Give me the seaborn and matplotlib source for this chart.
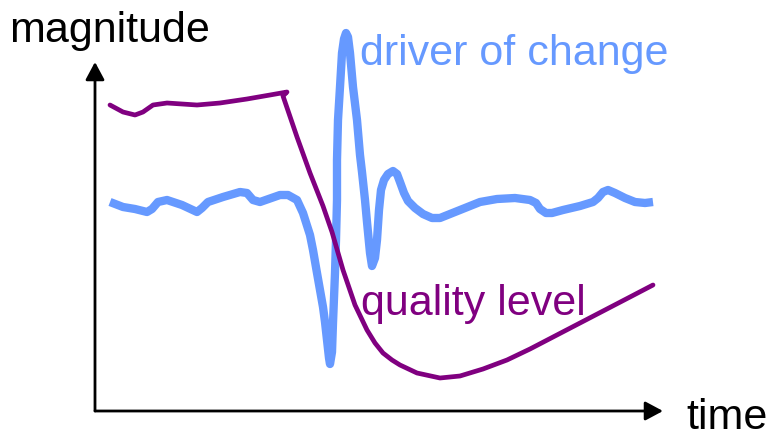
import matplotlib
matplotlib.use("Agg")
import matplotlib.pyplot as plt
import seaborn as sns

sns.set_theme(style="white")
plt.rcParams["font.family"] = ["Liberation Sans", "DejaVu Sans"]

# driver of change (blue)
driver_time = [15, 28, 40, 52, 57, 63, 72, 87, 102, 107, 113, 128, 145, 152, 158,
               165, 185, 193, 202, 208, 215, 218, 222, 225, 228, 230, 232, 234,
               235, 237, 238, 240, 241, 242, 242, 243, 245, 247, 249, 251, 253,
               255, 258, 262, 265, 267, 270, 272, 275, 277, 280, 282, 284, 286,
               289, 293, 298, 302, 305, 309, 313, 320, 328, 337, 345, 355, 370,
               385, 402, 420, 435, 441, 445, 451, 457, 468, 485, 498, 503, 508,
               513, 520, 530, 540, 550, 558]
driver_mag = [209, 204, 202, 199, 202, 209, 211, 206, 199, 203, 209, 214, 219, 218, 211,
              209, 216, 216, 211, 198, 176, 161, 138, 121, 104, 89, 71, 53,
              47, 59, 88, 138, 171, 211, 251, 291, 324, 358, 372, 378, 374,
              358, 324, 291, 256, 239, 211, 189, 158, 145, 153, 171, 201, 221,
              231, 237, 240, 237, 229, 218, 210, 203, 197, 193, 193, 197, 203,
              209, 212, 213, 211, 208, 202, 198, 198, 201, 205, 209, 213, 219,
              221, 218, 213, 209, 208, 209]

# quality level (purple)
quality_time = [15, 28, 40, 48, 58, 72, 87, 102, 125, 152, 175, 192, 188, 202,
                215, 228, 237, 248, 260, 272, 280, 288, 297, 305, 322, 345, 365,
                388, 412, 435, 460, 485, 510, 535, 558]
quality_mag = [306, 299, 296, 299, 306, 308, 307, 306, 308, 312, 316, 319, 315, 274,
               238, 205, 179, 141, 106, 81, 68, 58, 51, 46, 38, 33, 35,
               42, 51, 62, 75, 88, 101, 114, 126]

blue = "#6699FF"
purple = "#800080"

fig = plt.figure(figsize=(7.71, 4.38), dpi=100)
ax = fig.add_axes([0, 0, 1, 1])
ax.set_xlim(-95, 676)
ax.set_ylim(-27, 411)
ax.set_axis_off()

sns.lineplot(x=driver_time, y=driver_mag, sort=False, estimator=None, ax=ax,
             color=blue, lw=6, solid_joinstyle="round", solid_capstyle="butt")
sns.lineplot(x=quality_time, y=quality_mag, sort=False, estimator=None, ax=ax,
             color=purple, lw=3.4, solid_joinstyle="round", solid_capstyle="round")

# hand-drawn axes with arrow heads
arrow = dict(arrowstyle="-|>,head_length=0.43,head_width=0.23", lw=2,
             color="black", mutation_scale=25, shrinkA=0, shrinkB=0)
ax.annotate("", xy=(0, 349), xytext=(0, 0), arrowprops=arrow)
ax.annotate("", xy=(568, 0), xytext=(0, 0), arrowprops=arrow)

ax.text(-86, 369, "magnitude", fontsize=31, color="black", va="baseline")
ax.text(265, 346, "driver of change", fontsize=31, color=blue, va="baseline")
ax.text(266, 96, "quality level", fontsize=31, color=purple, va="baseline")
ax.text(591, -18, "time", fontsize=31, color="black", va="baseline")

fig.savefig("out.png", dpi=100)
